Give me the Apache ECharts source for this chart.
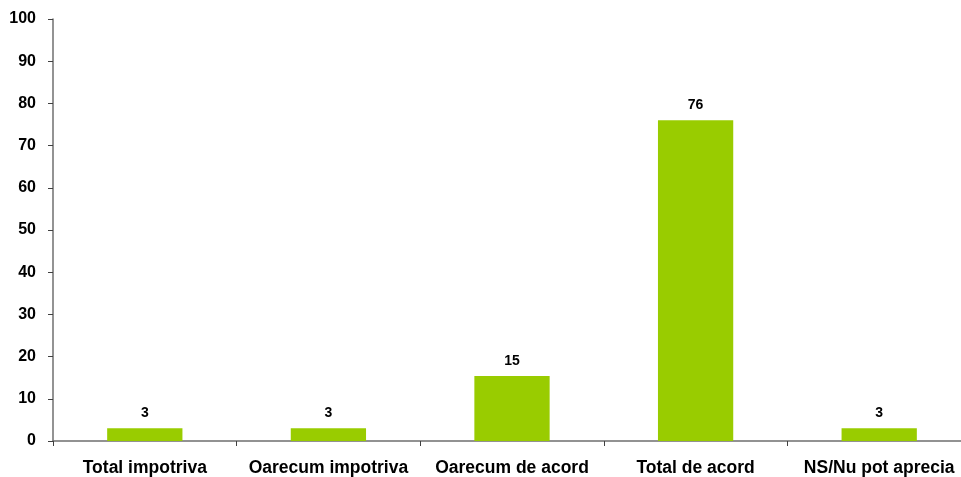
<!DOCTYPE html>
<html>
<head>
<meta charset="utf-8">
<script src="https://cdn.jsdelivr.net/npm/echarts@6/dist/echarts.min.js"></script>
<style>
html, body { margin: 0; padding: 0; background: #fff; overflow: hidden; }
#chart { width: 971px; height: 477px; }
</style>
</head>
<body>
<div id="chart"></div>
<script>
// categorii si valori (procente)
var categories = ['Total impotriva', 'Oarecum impotriva', 'Oarecum de acord', 'Total de acord', 'NS/Nu pot aprecia'];
var values = [3, 3, 15.4, 76, 3];
var yTicks = [0, 10, 20, 30, 40, 50, 60, 70, 80, 90, 100];

var myChart = echarts.init(document.getElementById('chart'));
var option = {
	animation: false,
	grid: {
		left: 53,
		right: 0,
		top: 19,
		bottom: 36,
		containLabel: false
	},
	xAxis: {
		type: 'category',
		data: categories,
		axisLine: { lineStyle: { color: '#6f6f6f', width: 1.5 } },
		axisTick: { show: true, interval: 0, length: 5, lineStyle: { color: '#404040' } },
		axisLabel: {
			interval: 0,
			hideOverlap: false,
			color: '#000',
			fontFamily: 'Liberation Sans',
			fontWeight: 'bold',
			fontSize: 17.5,
			margin: 18
		}
	},
	yAxis: {
		type: 'value',
		min: yTicks[0],
		max: yTicks[yTicks.length - 1],
		interval: 10,
		splitLine: { show: false },
		axisLine: { show: true, lineStyle: { color: '#6f6f6f', width: 1.5 } },
		axisTick: { show: true, length: 5, lineStyle: { color: '#404040' } },
		axisLabel: {
			color: '#000',
			fontFamily: 'Liberation Sans',
			fontWeight: 'bold',
			fontSize: 16,
			margin: 17
		}
	},
	series: [{
		type: 'bar',
		data: values,
		barWidth: '41%',
		itemStyle: { color: '#99cc00' },
		label: {
			show: true,
			position: 'top',
			distance: 8,
			color: '#000',
			fontFamily: 'Liberation Sans',
			fontWeight: 'bold',
			fontSize: 14,
			formatter: function(p) { return Math.round(p.value); }
		}
	}]
};
myChart.setOption(option);
</script>
</body>
</html>
